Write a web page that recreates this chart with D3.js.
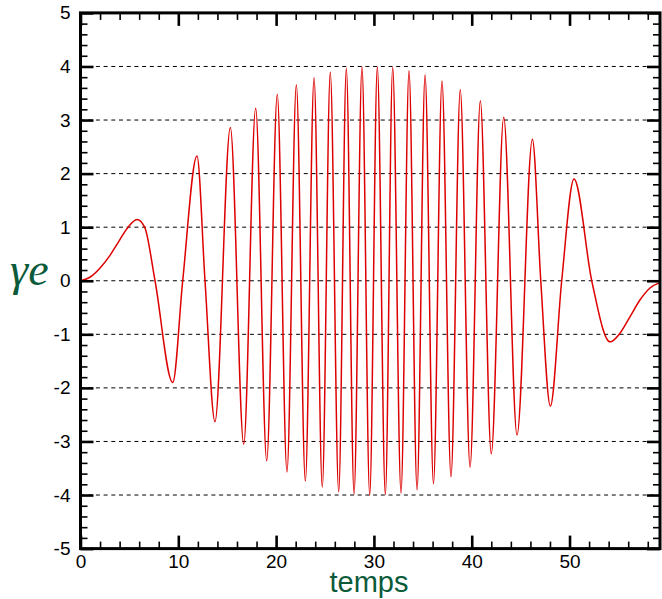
<!DOCTYPE html>
<html>
  <head>
    <meta charset="utf-8">
    <title></title>
    <script src="https://cdnjs.cloudflare.com/ajax/libs/d3/7.8.5/d3.min.js"></script>
    <style>
      body { margin: 0; background: #fff; }
      text { font-family: "Liberation Sans", Arial, sans-serif; }
    </style>
  </head>
  <body>
    <script type="text/javascript">

    // peaks, troughs and a few extra points
    let temps = [0, 1, 2, 3, 4, 4.86, 5.78, 6.56, 7.62, 9.43, 10.45, 11.91, 12.73, 13.75,
      15.32, 16.69, 17.91, 19.04, 20.12, 21.11, 22.07, 22.99, 23.88, 24.72, 25.54, 26.40,
      27.18, 27.97, 28.78, 29.57, 30.35, 31.17, 31.92, 32.77, 33.59, 34.41, 35.23, 36.09,
      36.96, 37.88, 38.83, 39.83, 40.88, 42.0, 43.27, 44.63, 46.2, 47.06, 48.04, 49.2,
      50.46, 52.27, 54.14, 55.16, 56.19, 57.2, 58.2, 59.25];
    let gammaE = [0, 0.07, 0.24, 0.47, 0.76, 1.0, 1.145, 1.0, 0, -1.90, 0, 2.33, 0, -2.63,
      2.86, -3.05, 3.22, -3.36, 3.48, -3.57, 3.66, -3.74, 3.79, -3.85, 3.89, -3.94,
      3.96, -3.98, 3.99, -4.00, 3.99, -3.99, 3.98, -3.96, 3.92, -3.90, 3.84, -3.79,
      3.73, -3.66, 3.57, -3.48, 3.36, -3.23, 3.05, -2.88, 2.64, 0, -2.34, 0,
      1.90, 0, -1.14, -0.98, -0.67, -0.36, -0.14, -0.03];

    let xTicks = [0, 10, 20, 30, 40, 50];
    let yTicks = [-5, -4, -3, -2, -1, 0, 1, 2, 3, 4, 5];
    let gridValues = [-4, -3, -2, -1, 0, 1, 2, 3, 4];
    let xLabel = "temps";
    let yLabel = "γe";

    let outerWidth = 662;
    let outerHeight = 599;
    let xMax = 59.25;

    let svg = d3.select("body").append("svg")
      .attr("width", outerWidth)
      .attr("height", outerHeight);

    let xScale = d3.scaleLinear().domain([0, xMax]).range([80.5, 660]);
    let yScale = d3.scaleLinear().domain([-5, 5]).range([548.6, 12.9]);

    let xMinor = d3.range(0, xMax, 2).filter(d => d % 10 !== 0);
    let yMinor = d3.range(-50, 51, 2).filter(d => d % 10 !== 0).map(d => d / 10);

    // dashed grid
    svg.append("g").selectAll("line")
      .data(gridValues)
      .enter().append("line")
      .attr("x1", xScale(0))
      .attr("x2", xScale(xMax))
      .attr("y1", d => yScale(d))
      .attr("y2", d => yScale(d))
      .attr("stroke", "#000")
      .attr("stroke-width", 1)
      .attr("stroke-dasharray", "4,3.7");

    // curve
    let points = temps.map((t, i) => [t, gammaE[i]]);
    let line = d3.line()
      .x(d => xScale(d[0]))
      .y(d => yScale(d[1]))
      .curve(d3.curveMonotoneX);

    svg.append("path")
      .attr("d", line(points))
      .attr("fill", "none")
      .attr("stroke", "#dd0000")
      .attr("stroke-width", 1.5);

    function styleAxis(g, width) {
      g.select(".domain").remove();
      g.selectAll(".tick line").attr("stroke", "#000").attr("stroke-width", width);
      g.selectAll(".tick text")
        .attr("fill", "#000")
        .style("font-size", "19px")
        .style("font-family", "'Liberation Sans', Arial, sans-serif");
    }

    let fmt = d => String(d);
    let x0 = xScale(0), x1 = xScale(xMax), y0 = yScale(-5), y1 = yScale(5);

    // minor ticks, all four sides
    svg.append("g").attr("transform", `translate(0,${y0})`)
      .call(d3.axisBottom(xScale).tickValues(xMinor).tickSize(-7).tickFormat(""))
      .call(g => styleAxis(g, 1.6));
    svg.append("g").attr("transform", `translate(0,${y1})`)
      .call(d3.axisTop(xScale).tickValues(xMinor).tickSize(-7).tickFormat(""))
      .call(g => styleAxis(g, 1.6));
    svg.append("g").attr("transform", `translate(${x0},0)`)
      .call(d3.axisLeft(yScale).tickValues(yMinor).tickSize(-7).tickFormat(""))
      .call(g => styleAxis(g, 1.6));
    svg.append("g").attr("transform", `translate(${x1},0)`)
      .call(d3.axisRight(yScale).tickValues(yMinor).tickSize(-7).tickFormat(""))
      .call(g => styleAxis(g, 1.6));

    // major ticks
    svg.append("g").attr("transform", `translate(0,${y0})`)
      .call(d3.axisBottom(xScale).tickValues(xTicks).tickSize(-13).tickPadding(6).tickFormat(fmt))
      .call(g => styleAxis(g, 2.6));
    svg.append("g").attr("transform", `translate(0,${y1})`)
      .call(d3.axisTop(xScale).tickValues(xTicks).tickSize(-13).tickFormat(""))
      .call(g => styleAxis(g, 2.6));
    svg.append("g").attr("transform", `translate(${x0},0)`)
      .call(d3.axisLeft(yScale).tickValues(yTicks).tickSize(-13).tickPadding(10).tickFormat(fmt))
      .call(g => styleAxis(g, 2.6));
    svg.append("g").attr("transform", `translate(${x1},0)`)
      .call(d3.axisRight(yScale).tickValues(yTicks).tickSize(-13).tickFormat(""))
      .call(g => styleAxis(g, 2.6));

    // frame
    svg.append("rect")
      .attr("x", x0)
      .attr("y", y1)
      .attr("width", x1 - x0)
      .attr("height", y0 - y1)
      .attr("fill", "none")
      .attr("stroke", "#000")
      .attr("stroke-width", 3);

    // axis titles
    svg.append("text")
      .attr("x", 369)
      .attr("y", 592)
      .attr("text-anchor", "middle")
      .attr("fill", "#0b5b3b")
      .style("font-size", "29px")
      .text(xLabel);

    svg.append("text")
      .attr("x", 10)
      .attr("y", 285)
      .attr("fill", "#0b5b3b")
      .style("font-family", "'Liberation Serif', 'DejaVu Serif', serif")
      .style("font-style", "italic")
      .style("font-size", "46px")
      .text(yLabel);

    </script>
  </body>
</html>
